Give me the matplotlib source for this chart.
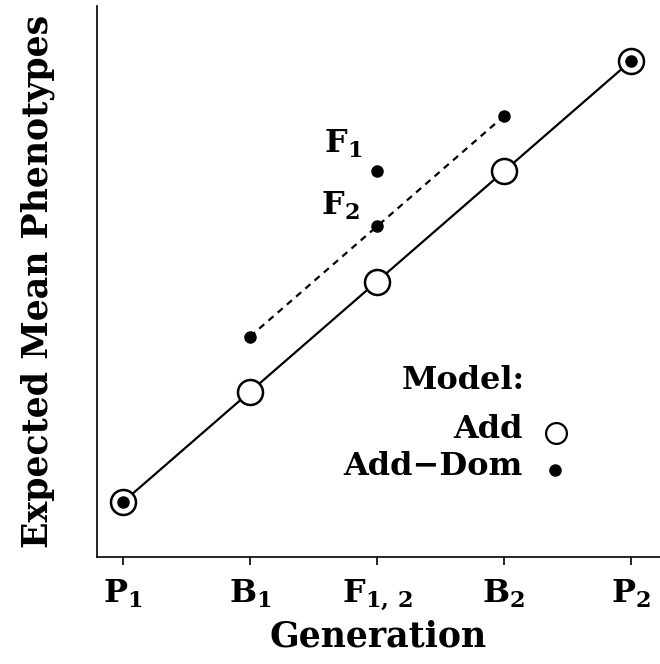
"""expected mean phenotypes, additive vs additive-dominance model"""

import matplotlib
matplotlib.use('Agg')
from matplotlib import pyplot as plt

plt.rcParams['font.family'] = 'DejaVu Serif'
plt.rcParams['font.weight'] = 'bold'
plt.rcParams['axes.labelweight'] = 'bold'
plt.rcParams['mathtext.fontset'] = 'dejavuserif'
plt.rcParams['mathtext.default'] = 'bf'

generations = [r'$P_1$', r'$B_1$', r'$F_{1,\,2}$', r'$B_2$', r'$P_2$']
gen_pos = [0, 1, 2, 3, 4]

# additive model
add_mean = [0, 1, 2, 3, 4]
# additive-dominance model
dom_x = [0, 1, 2, 2, 3, 4]
dom_mean = [0, 1.5, 3.0, 2.5, 3.5, 4]
# dotted segment B1 - F2 - B2
dom_line_x = [1, 2, 3]
dom_line_y = [1.5, 2.5, 3.5]

fs = 23

fig = plt.figure(figsize=(6.6, 6.64), dpi=100)
ax = fig.add_axes([0.147, 0.161, 0.853, 0.83])

ax.plot(gen_pos, add_mean, color='black', lw=1.6, marker='o', ms=18,
        mfc='white', mec='black', mew=1.8, zorder=2)
ax.plot(dom_line_x, dom_line_y, color='black', lw=1.6, ls=(0, (3, 2.5)), zorder=1)
ax.plot(dom_x, dom_mean, ls='none', marker='o', ms=8, color='black', zorder=3)

ax.text(1.73, 3.25, r'$F_1$', fontsize=fs, ha='center', va='center')
ax.text(1.71, 2.69, r'$F_2$', fontsize=fs, ha='center', va='center')

# legend
ax.text(2.68, 1.10, 'Model:', fontsize=fs, ha='center', va='center')
ax.text(3.15, 0.66, 'Add', fontsize=fs, ha='right', va='center')
ax.text(3.15, 0.32, 'Add\u2212Dom', fontsize=fs, ha='right', va='center')
ax.plot([3.41], [0.63], ls='none', marker='o', ms=15, mfc='white', mec='black', mew=1.6)
ax.plot([3.40], [0.29], ls='none', marker='o', ms=8, color='black')

ax.set_xlim(-0.205, 4.23)
ax.set_ylim(-0.5, 4.5)
ax.set_xticks(gen_pos)
ax.set_xticklabels(generations, fontsize=fs)
ax.set_yticks([])
ax.tick_params(axis='x', direction='out', length=6, width=1.2, pad=9)
for s in ['top', 'right']:
    ax.spines[s].set_visible(False)
for s in ['left', 'bottom']:
    ax.spines[s].set_linewidth(1.2)

ax.set_xlabel('Generation', fontsize=25, labelpad=5)
ax.set_ylabel('Expected Mean Phenotypes', fontsize=25, labelpad=30)

fig.savefig('out.png', dpi=100)
